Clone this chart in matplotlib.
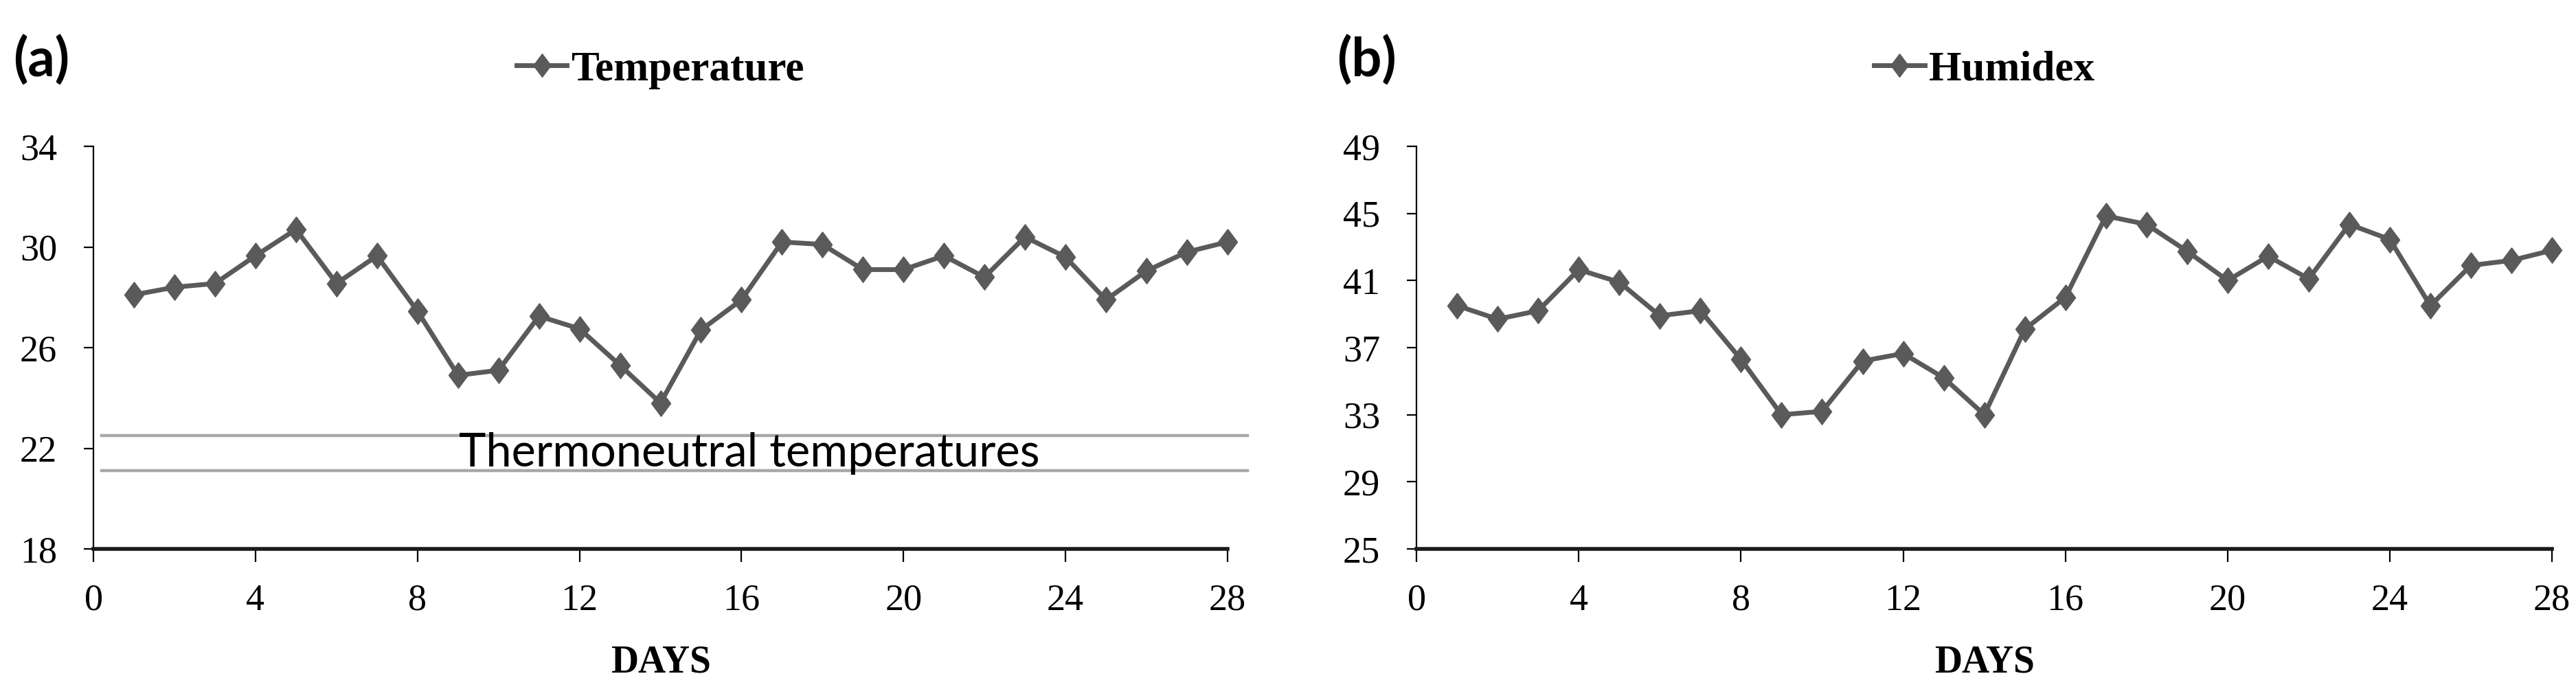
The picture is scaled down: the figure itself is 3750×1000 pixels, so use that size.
import matplotlib
matplotlib.use("Agg")
import matplotlib.pyplot as plt

# Daily values
days = list(range(1, 29))
temperature = [28.1, 28.4, 28.55, 29.65, 30.7, 28.55, 29.65, 27.45, 24.9, 25.1,
               27.25, 26.75, 25.3, 23.8, 26.7, 27.9, 30.2, 30.1, 29.1, 29.1,
               29.65, 28.8, 30.4, 29.6, 27.9, 29.05, 29.8, 30.2]
humidex = [39.5, 38.7, 39.2, 41.65, 40.9, 38.9, 39.2, 36.3, 33.0, 33.2,
           36.2, 36.65, 35.2, 33.0, 38.1, 40.0, 44.85, 44.35, 42.75, 41.0,
           42.45, 41.1, 44.35, 43.45, 39.5, 41.9, 42.2, 42.8]
thermoneutral = [21.1, 22.5]

x_ticks = [0, 4, 8, 12, 16, 20, 24, 28]
temp_ticks = [18, 22, 26, 30, 34]
humidex_ticks = [25, 29, 33, 37, 41, 45, 49]

LINE_COLOR = "#5a5a5a"
SERIF = "Liberation Serif"
# slightly wide diamond like the Excel marker
DIAMOND = [(0, 1), (0.75, 0), (0, -1), (-0.75, 0), (0, 1)]


def style_axis(ax, yticks):
    ax.set_xlim(0, 28)
    ax.set_ylim(yticks[0], yticks[-1])
    ax.set_xticks(x_ticks)
    ax.set_yticks(yticks)
    ax.spines["top"].set_visible(False)
    ax.spines["right"].set_visible(False)
    ax.spines["left"].set_linewidth(1.6)
    ax.spines["bottom"].set_linewidth(4)
    ax.spines["bottom"].set_color("#1a1a1a")
    ax.tick_params(axis="x", direction="out", length=14, width=1.6, pad=22)
    ax.tick_params(axis="y", direction="out", length=10, width=1.6, pad=28)
    for lab in ax.get_xticklabels() + ax.get_yticklabels():
        lab.set_fontfamily(SERIF)
        lab.set_fontsize(39)
    ax.set_xlabel("DAYS", fontfamily=SERIF, fontweight="bold", fontsize=40, labelpad=28)


fig = plt.figure(figsize=(37.5, 10), dpi=100)
ax1 = fig.add_axes([0.0363, 0.201, 0.4402, 0.586])
ax2 = fig.add_axes([0.5499, 0.201, 0.4408, 0.586])

# Panel (a): temperature
for y in thermoneutral:
    ax1.plot([0.2, 28.5], [y, y], color="#a8a8a8", lw=3.2, clip_on=False)
ax1.plot(days, temperature, color=LINE_COLOR, lw=5, marker=DIAMOND, markersize=27,
         label="Temperature", clip_on=False)
ax1.text(16.2, 21.8, "Thermoneutral temperatures", fontfamily="Lato", fontsize=48,
         ha="center", va="center")
style_axis(ax1, temp_ticks)

# Panel (b): humidex
ax2.plot(days, humidex, color=LINE_COLOR, lw=5, marker=DIAMOND, markersize=27,
         label="Humidex", clip_on=False)
style_axis(ax2, humidex_ticks)

for ax in (ax1, ax2):
    ax.legend(loc="center", bbox_to_anchor=(0.5, 1.19), frameon=False,
              prop={"family": SERIF, "weight": "bold", "size": 44},
              handlelength=1.2, handletextpad=0.1, markerscale=0.9)

fig.text(0.005, 0.912, "(a)", fontfamily="Lato", fontsize=56, fontweight="bold",
         va="center", ha="left")
fig.text(0.519, 0.912, "(b)", fontfamily="Lato", fontsize=56, fontweight="bold",
         va="center", ha="left")

fig.savefig("out.png", dpi=100)
